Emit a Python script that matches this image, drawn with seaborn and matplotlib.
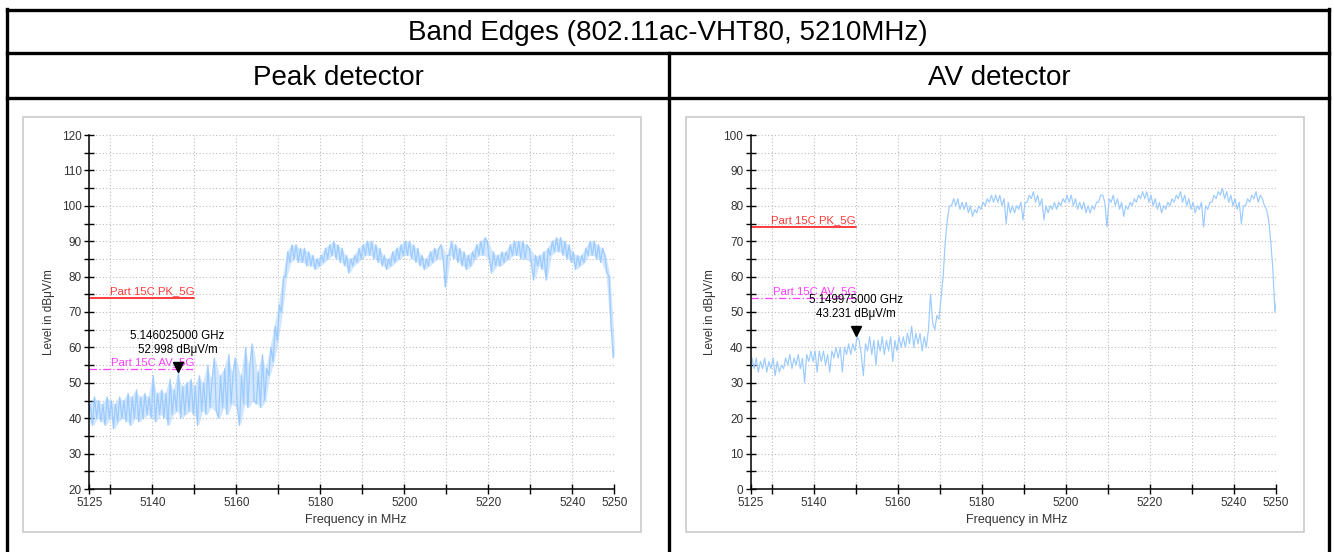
import numpy as np
import pandas as pd
import matplotlib
matplotlib.use("Agg")
import matplotlib.pyplot as plt
import matplotlib.transforms as mtransforms
from matplotlib.lines import Line2D
from matplotlib.patches import Rectangle
import seaborn as sns

# ---------------- data ----------------
title_text = "Band Edges (802.11ac-VHT80, 5210MHz)"
panel_titles = ["Peak detector", "AV detector"]

freq_mhz = list(range(5125, 5251))

# peak detector trace: lower / upper envelope per 1 MHz bin (dBuV/m)
peak_low = [39, 38, 40, 39, 38, 40, 37, 39, 40, 39,
            38, 40, 39, 40, 41, 40, 39, 41, 40, 38,
            41, 42, 40, 41, 42, 41, 38, 42, 41, 43,
            42, 40, 43, 41, 44, 43, 38, 44, 43, 45,
            44, 43, 45, 52, 56, 62, 70, 80, 84, 85,
            84, 84, 83, 83, 82, 83, 84, 85, 86, 85,
            84, 83, 81, 83, 84, 85, 86, 86, 85, 84,
            83, 82, 83, 84, 85, 86, 86, 85, 84, 83,
            82, 83, 84, 85, 85, 77, 86, 85, 84, 83,
            82, 83, 85, 86, 86, 85, 81, 83, 83, 84,
            85, 86, 86, 85, 85, 84, 79, 83, 82, 79,
            86, 87, 87, 86, 85, 84, 82, 83, 84, 86,
            86, 85, 84, 81, 66, 57]
peak_high = [44, 46, 45, 44, 46, 45, 44, 46, 45, 47,
             46, 48, 46, 47, 46, 52, 47, 48, 47, 51,
             48, 53, 49, 50, 51, 49, 52, 50, 55, 51,
             57, 52, 54, 58, 53, 57, 52, 60, 55, 61,
             53, 58, 54, 60, 66, 72, 80, 87, 89, 89,
             88, 88, 87, 86, 85, 86, 88, 89, 90, 89,
             88, 86, 85, 86, 88, 89, 90, 90, 89, 88,
             86, 85, 87, 88, 89, 90, 90, 89, 88, 86,
             85, 87, 88, 88, 89, 86, 90, 89, 88, 87,
             86, 87, 89, 90, 91, 90, 87, 86, 87, 87,
             89, 90, 90, 90, 89, 88, 86, 86, 87, 88,
             90, 91, 91, 90, 89, 87, 86, 86, 88, 90,
             90, 89, 88, 86, 80, 62]

# average detector trace
av_low = [31, 34, 33, 34, 33, 34, 32, 33, 34, 35,
          34, 35, 34, 30, 36, 36, 33, 36, 35, 33,
          37, 37, 33, 38, 38, 39, 38, 32, 39, 38,
          35, 39, 38, 39, 36, 39, 40, 40, 41, 40,
          41, 39, 40, 47, 45, 48, 60, 76, 80, 80,
          79, 79, 78, 77, 78, 79, 80, 81, 81, 81,
          80, 75, 78, 78, 79, 76, 81, 82, 81, 80,
          76, 78, 79, 79, 80, 81, 81, 80, 79, 79,
          78, 78, 79, 81, 81, 74, 81, 80, 79, 77,
          79, 80, 81, 82, 82, 81, 80, 79, 78, 79,
          80, 81, 82, 81, 80, 79, 78, 79, 74, 79,
          81, 82, 83, 82, 81, 80, 79, 75, 80, 81,
          82, 81, 80, 76, 62, 50]
av_high = [37, 37, 36, 37, 36, 37, 36, 35, 37, 38,
           37, 38, 37, 38, 39, 39, 39, 39, 38, 39,
           40, 40, 40, 41, 41, 43, 42, 41, 43, 42,
           42, 43, 42, 43, 42, 43, 43, 44, 46, 44,
           44, 43, 45, 55, 49, 54, 70, 80, 82, 82,
           81, 81, 80, 79, 80, 81, 82, 83, 83, 83,
           82, 81, 80, 80, 81, 81, 83, 84, 83, 82,
           80, 80, 81, 81, 82, 83, 83, 82, 81, 81,
           80, 80, 81, 83, 83, 82, 83, 82, 81, 80,
           81, 82, 83, 84, 84, 83, 82, 81, 80, 81,
           82, 83, 84, 83, 82, 81, 80, 81, 80, 81,
           83, 84, 85, 84, 83, 82, 81, 80, 82, 83,
           84, 83, 82, 79, 70, 54]

limit_names = ["Part 15C PK_5G", "Part 15C AV_5G"]
limit_levels = [74, 54]
limit_span = [5125, 5150]

marker_freq = [5146.025, 5149.975]
marker_level = [52.998, 43.231]

y_ranges = [(20, 120), (0, 100)]
x_range = (5125, 5250)
x_major = [5125, 5140, 5160, 5180, 5200, 5220, 5240, 5250]
x_minor = [5130, 5150, 5170, 5190, 5210, 5230]

# ---------------- style ----------------
sns.set_theme(style="white")
plt.rcParams["font.family"] = ["Liberation Sans", "DejaVu Sans"]

TRACE = "#9ccbff"
PK_COL = "#ff3b3b"
AV_COL = "#ff40ff"
GRID = "#bcbcbc"
band_alpha = [0.45, 0.0]
trace_lw = [0.9, 0.85]

W, H = 1333, 552
fig = plt.figure(figsize=(W / 100, H / 100), dpi=100)
fig.patch.set_facecolor("white")


def px(x, y):
    return x / W, 1 - y / H


# table lines
lw_tab = 2.4
for (x0, y0, x1, y1) in [(6.7, 10, 1329.3, 10), (6.7, 53.3, 1329.3, 53.3),
                         (6.7, 98.3, 1329.3, 98.3), (6.7, 8.5, 6.7, 552),
                         (1329.3, 8.5, 1329.3, 552), (669.3, 53.3, 669.3, 552)]:
    a = px(x0, y0)
    b = px(x1, y1)
    fig.add_artist(Line2D([a[0], b[0]], [a[1], b[1]], color="black", lw=lw_tab,
                          solid_capstyle="projecting"))

fig.text(*px(668, 33), title_text, ha="center", va="center", fontsize=20, color="black")
fig.text(*px(338, 78), panel_titles[0], ha="center", va="center", fontsize=20, color="black")
fig.text(*px(999, 78), panel_titles[1], ha="center", va="center", fontsize=20, color="black")

# light grey chart frames
for fx in (23.3, 685.7):
    fig.add_artist(Rectangle(px(fx, 531.5), 618 / W, 414.5 / H, fill=False,
                             edgecolor="#c6c6c6", lw=1.1, transform=fig.transFigure))

axes_left_px = [89.3, 751.0]
traces = [(peak_low, peak_high), (av_low, av_high)]

for i in range(2):
    left = axes_left_px[i]
    ax = fig.add_axes([left / W, 1 - 489 / H, 525 / W, 354 / H])
    ax.set_facecolor("none")
    lo, hi = traces[i]
    if band_alpha[i] > 0:
        ax.fill_between(freq_mhz, lo, hi, color=TRACE, lw=0, alpha=band_alpha[i], zorder=2)
    xs, ys = [], []
    n = len(freq_mhz)
    for k, (f, a, b) in enumerate(zip(freq_mhz, lo, hi)):
        nxt = (lo[k + 1] + hi[k + 1]) / 2 if k + 1 < n else (a + b) / 2
        falling = nxt < (a + b) / 2 - 3
        xs += [f - 0.25, f + 0.25]
        ys += [b, a] if falling else [a, b]
    df = pd.DataFrame({"f": xs, "v": ys})
    sns.lineplot(data=df, x="f", y="v", ax=ax, sort=False, estimator=None,
                 color=TRACE, lw=trace_lw[i], zorder=3)

    # limit lines
    sns.lineplot(x=limit_span, y=[limit_levels[0]] * 2, ax=ax, color=PK_COL, lw=1.4, zorder=4)
    sns.lineplot(x=limit_span, y=[limit_levels[1]] * 2, ax=ax, color=AV_COL, lw=0.9,
                 zorder=4, linestyle=(0, (6, 2, 1, 2)))
    ax.annotate(limit_names[0], xy=(limit_span[1], limit_levels[0]), xytext=(0, 1.2),
                textcoords="offset points", ha="right", va="bottom", color=PK_COL,
                fontsize=8.2, zorder=5)
    ax.annotate(limit_names[1], xy=(limit_span[1], limit_levels[1]), xytext=(0, 1.2),
                textcoords="offset points", ha="right", va="bottom", color=AV_COL,
                fontsize=8.2, zorder=5)

    # marker
    off = mtransforms.ScaledTranslation(0, 3.5 / 72, fig.dpi_scale_trans)
    ax.plot([marker_freq[i]], [marker_level[i]], marker="v", ms=7, color="black",
            ls="none", transform=ax.transData + off, zorder=6, clip_on=False)
    ax.annotate(f"{marker_freq[i] / 1000:.9f} GHz\n{marker_level[i]:.3f} dBμV/m",
                xy=(marker_freq[i], marker_level[i]), xytext=(0, 11.5),
                textcoords="offset points", ha="center", va="bottom",
                fontsize=8.3, color="black", linespacing=1.25, zorder=6)

    ax.set_xlim(*x_range)
    ax.set_ylim(*y_ranges[i])
    ax.set_xticks(x_major)
    ax.set_xticks(x_minor, minor=True)
    ax.set_xticklabels([str(v) for v in x_major])
    y0, y1 = y_ranges[i]
    ax.set_yticks(list(range(y0, y1 + 1, 10)))
    ax.set_yticks(list(range(y0 + 5, y1, 10)), minor=True)
    ax.grid(True, which="both", ls=(0, (1, 2)), color=GRID, lw=0.8, zorder=0)
    for s in ("top", "right"):
        ax.spines[s].set_visible(False)
    for s in ("left", "bottom"):
        ax.spines[s].set_color("black")
        ax.spines[s].set_linewidth(1.1)
        ax.spines[s].set_zorder(7)
    ax.tick_params(which="both", direction="inout", length=7, width=1, color="black",
                   labelcolor="#333333", labelsize=8.5, pad=2,
                   bottom=True, left=True)
    ax.set_xlabel("Frequency in MHz", fontsize=9, color="#333333")
    ax.set_ylabel("Level in dBμV/m", fontsize=8.5, color="#333333")
    ax.xaxis.set_label_coords(0.507, -0.072)
    ax.yaxis.set_label_coords(-0.066, 0.5)

fig.savefig("out.png", dpi=100)
